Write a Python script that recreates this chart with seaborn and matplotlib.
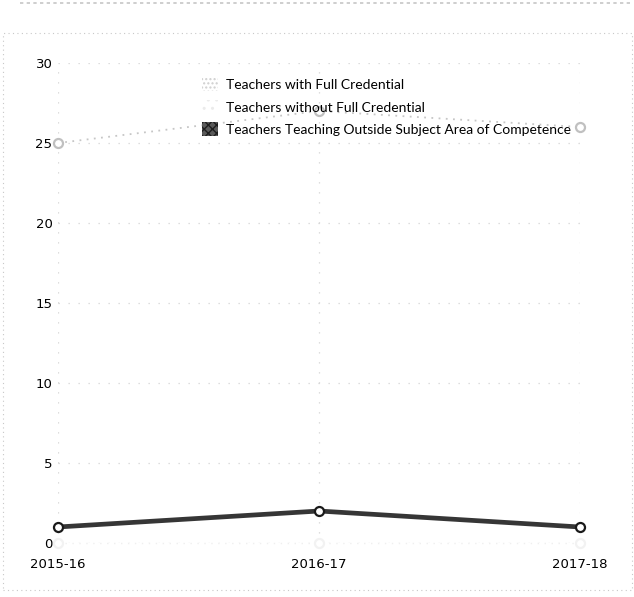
import matplotlib
matplotlib.use("Agg")
import matplotlib.pyplot as plt
from matplotlib.patches import Patch, Rectangle
from matplotlib.lines import Line2D
import seaborn as sns
import pandas as pd

# School years on the x axis
years = ["2015-16", "2016-17", "2017-18"]

# Teacher counts per series
full_credential = [25, 27, 26]
without_credential = [0, 0, 0]
outside_subject = [1, 2, 1]

series_names = [
    "Teachers with Full Credential",
    "Teachers without Full Credential",
    "Teachers Teaching Outside Subject Area of Competence",
]
y_ticks = [0, 5, 10, 15, 20, 25, 30]

df = pd.DataFrame({
    "year": years * 3,
    "x": list(range(len(years))) * 3,
    "value": full_credential + without_credential + outside_subject,
    "series": [series_names[0]] * 3 + [series_names[1]] * 3 + [series_names[2]] * 3,
})

sns.set_theme(style="white")
plt.rcParams["font.family"] = ["Lato", "DejaVu Sans"]

W, H = 634, 597
fig = plt.figure(figsize=(W / 100, H / 100), dpi=100)
ax = fig.add_axes([58 / W, 1 - 543 / H, 522 / W, 480 / H])

# faint dotted frame around the whole chart, and a faded header line
fig.patches.append(Rectangle((3 / W, 1 - 590 / H), 629 / W, 557 / H,
                             transform=fig.transFigure, fill=False,
                             edgecolor="#c8c8c8", linestyle=(0, (1, 3)), lw=0.8))
fig.add_artist(Line2D([20 / W, 630 / W], [1 - 3 / H, 1 - 3 / H],
                      transform=fig.transFigure, color="#c6c6c6",
                      linestyle=(0, (2, 2)), lw=1.2))

palette = {series_names[0]: "#c6c6c6", series_names[1]: "#efefef",
           series_names[2]: "#363636"}
widths = {series_names[0]: 1.3, series_names[1]: 1.0, series_names[2]: 3.4}
styles = {series_names[0]: (0, (1, 3)), series_names[1]: (0, (1, 4)),
          series_names[2]: "-"}
edges = {series_names[0]: "#c0c0c0", series_names[1]: "#f2f2f2",
         series_names[2]: "#1a1a1a"}

for name in series_names:
    sub = df[df["series"] == name]
    sns.lineplot(data=sub, x="x", y="value", ax=ax, color=palette[name],
                 lw=widths[name], linestyle=styles[name], marker="o",
                 markersize=6.5, markerfacecolor="white",
                 markeredgecolor=edges[name], markeredgewidth=1.6,
                 clip_on=False, legend=False, zorder=3)

ax.set_xlim(0, len(years) - 1)
ax.set_ylim(0, 30)
ax.set_xticks(range(len(years)))
ax.set_xticklabels(years)
ax.set_yticks(y_ticks)
ax.set_yticklabels([str(t) for t in y_ticks])
ax.set_xlabel("")
ax.set_ylabel("")
for lab in ax.get_xticklabels() + ax.get_yticklabels():
    lab.set_family(["DejaVu Sans"])
    lab.set_fontsize(9.5)
    lab.set_color("#000000")
ax.tick_params(axis="x", pad=11, length=0)
ax.tick_params(axis="y", pad=4, length=0)

ax.grid(True, color="#d4d4d4", linestyle=(0, (1, 7)), lw=0.9)
for s in ax.spines.values():
    s.set_visible(False)

handles = [
    Patch(facecolor="white", edgecolor="#cfcfcf", hatch="....", lw=0),
    Patch(facecolor="white", edgecolor="#ebebeb", hatch="..", lw=0),
    Patch(facecolor="#5a5a5a", edgecolor="#1e1e1e", hatch="xxxx", lw=0),
]
leg = ax.legend(handles, series_names, loc="upper left",
                bbox_to_anchor=(138 / 522, 1 - 9 / 480), frameon=False,
                fontsize=10, handlelength=1.15, handleheight=1.15,
                handletextpad=0.6, labelspacing=0.62, borderaxespad=0)
for t in leg.get_texts():
    t.set_color("#000000")

fig.savefig("out.png", dpi=100)
